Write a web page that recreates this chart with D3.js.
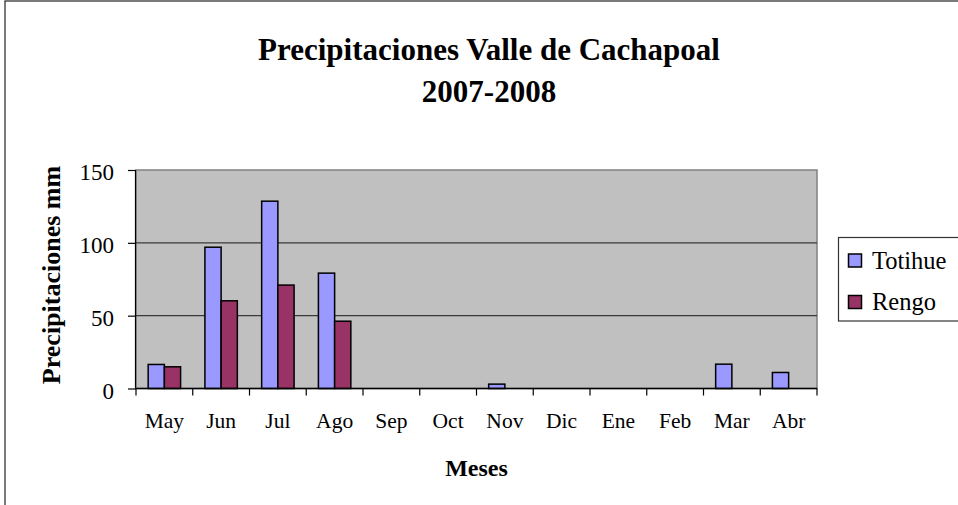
<!DOCTYPE html>
<html><head><meta charset="utf-8">
<script src="https://cdn.jsdelivr.net/npm/d3@7"></script>
<style>body{margin:0;background:#fff;overflow:hidden}svg{display:block}
text{font-family:"Liberation Serif","Times New Roman",serif;}</style>
</head><body>
<svg id="c" width="958" height="505"></svg>
<script>
const months = ["May","Jun","Jul","Ago","Sep","Oct","Nov","Dic","Ene","Feb","Mar","Abr"];
const seriesNames = ["Totihue","Rengo"];
const totihue = [16.5,97,128.6,79.2,0,0,3,0,0,0,16.7,11];
const rengo = [14.9,60.2,71,46.2,0,0,0,0,0,0,0,0];
const yTicks = [0,50,100,150];
const colors = ["#9999FF","#993366"];
const titleLines = ["Precipitaciones Valle de Cachapoal","2007-2008"];

const svg = d3.select("#c");
const L=136, R=817, T=170, B=388.5;

svg.append("rect").attr("x",5).attr("y",1).attr("width",1000).attr("height",600)
  .attr("fill","#fff").attr("stroke","#333").attr("stroke-width",1.3);

const x = d3.scaleBand().domain(months).range([L,R]).padding(0);
const bw = x.bandwidth();
const gap = bw*0.75/3.5;
const x1 = d3.scaleBand().domain(seriesNames).range([gap,bw-gap]).padding(0);
const y = d3.scaleLinear().domain([0,150]).range([B,T]);

svg.append("rect").attr("x",L).attr("y",T).attr("width",R-L).attr("height",B-T)
  .attr("fill","#C0C0C0").attr("stroke","#808080").attr("stroke-width",1.5);

svg.append("g").selectAll("line").data(yTicks.filter(d=>d>0 && d<150)).join("line")
  .attr("x1",L).attr("x2",R).attr("y1",d=>y(d)).attr("y2",d=>y(d))
  .attr("stroke","#3a3a3a").attr("stroke-width",1.3);

const data = months.map((m,i)=>({m, vals:[totihue[i],rengo[i]]}));
const g = svg.append("g");
data.forEach(d=>{
  d.vals.forEach((v,j)=>{
    if(v<=0) return;
    g.append("rect").attr("x",x(d.m)+x1(seriesNames[j])).attr("y",y(v))
      .attr("width",x1.bandwidth()).attr("height",B-y(v))
      .attr("fill",colors[j]).attr("stroke","#000").attr("stroke-width",1.5);
  });
});

const ya = svg.append("g").attr("transform",`translate(${L},0)`)
  .call(d3.axisLeft(y).tickValues(yTicks).tickSize(8).tickPadding(14));
ya.attr("font-family",null);
ya.select(".domain").attr("stroke","#000").attr("stroke-width",1.2).attr("d",`M-0.5,${T}V${B}`);
ya.selectAll(".tick line").attr("stroke","#000").attr("stroke-width",1.2);
ya.selectAll("text").attr("font-size",23).attr("fill","#000").attr("dy","0.42em");

const xa = svg.append("g").attr("transform",`translate(0,${B})`);
xa.append("line").attr("x1",L).attr("x2",R).attr("y1",0).attr("y2",0).attr("stroke","#000").attr("stroke-width",1.3);
const bounds = months.map(m=>x(m)).concat([R]);
xa.selectAll("line.tk").data(bounds).join("line").attr("class","tk")
  .attr("x1",d=>d).attr("x2",d=>d).attr("y1",0).attr("y2",7).attr("stroke","#000").attr("stroke-width",1.2);
xa.selectAll("text").data(months).join("text")
  .attr("x",d=>x(d)+bw/2).attr("y",39.5).attr("text-anchor","middle")
  .attr("font-size",21.5).attr("fill","#000").text(d=>d);

svg.append("text").attr("x",489).attr("y",60).attr("text-anchor","middle")
  .attr("font-weight","bold").attr("font-size",31).text(titleLines[0]);
svg.append("text").attr("x",489).attr("y",102).attr("text-anchor","middle")
  .attr("font-weight","bold").attr("font-size",31).text(titleLines[1]);
svg.append("text").attr("x",(L+R)/2).attr("y",476).attr("text-anchor","middle")
  .attr("font-weight","bold").attr("font-size",24).text("Meses");
svg.append("text").attr("transform",`translate(60,275) rotate(-90)`).attr("text-anchor","middle")
  .attr("font-weight","bold").attr("font-size",26).text("Precipitaciones mm");

const lg = svg.append("g");
lg.append("rect").attr("x",838.5).attr("y",237.5).attr("width",200).attr("height",83.5)
  .attr("fill","#fff").attr("stroke","#333").attr("stroke-width",1.2);
seriesNames.forEach((n,i)=>{
  const yy = 260.5 + i*41.5;
  lg.append("rect").attr("x",848.5).attr("y",yy-6.5).attr("width",13).attr("height",13)
    .attr("fill",colors[i]).attr("stroke","#000").attr("stroke-width",1.5);
  lg.append("text").attr("x",872).attr("y",yy+8)
    .attr("font-size",24.5).attr("fill","#000").text(n);
});
</script>
</body></html>
